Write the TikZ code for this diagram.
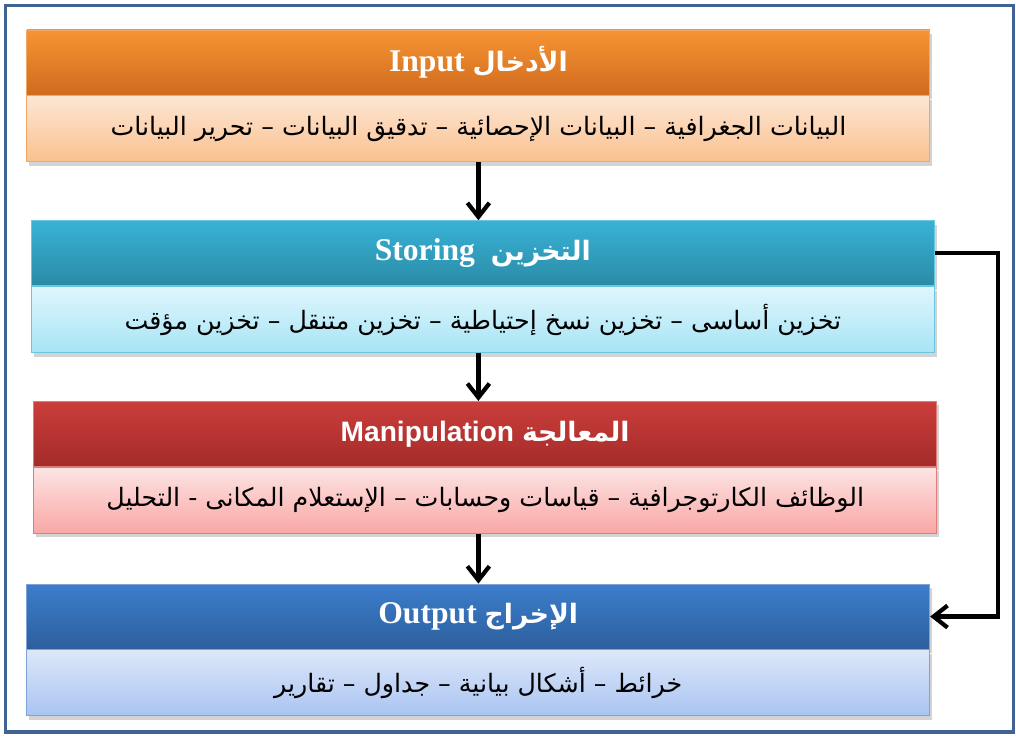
\documentclass[tikz,border=0pt]{standalone}
\usepackage{fontspec}
\setmainfont{Liberation Serif}
\newfontfamily\arabicfont[Script=Arabic]{DejaVu Sans}
\newfontfamily\sansfont{Liberation Sans}
\TeXXeTstate=1
\usetikzlibrary{positioning,arrows.meta,shadows}

\definecolor{FrameBlue}{HTML}{3F6493}
\definecolor{InTop}{HTML}{F79433}
\definecolor{InBot}{HTML}{D06A1E}
\definecolor{InLt}{HTML}{FDE6D4}
\definecolor{InDk}{HTML}{FAC18F}
\definecolor{InLine}{HTML}{F2A766}
\definecolor{StTop}{HTML}{38B2D6}
\definecolor{StBot}{HTML}{2A8BA6}
\definecolor{StLt}{HTML}{DFF6FC}
\definecolor{StDk}{HTML}{A7E4F6}
\definecolor{StLine}{HTML}{6DC6E0}
\definecolor{MaTop}{HTML}{CB3E3B}
\definecolor{MaBot}{HTML}{A32B29}
\definecolor{MaLt}{HTML}{FCE4E4}
\definecolor{MaDk}{HTML}{F9A8A5}
\definecolor{MaLine}{HTML}{E07C7A}
\definecolor{OuTop}{HTML}{3C7DCC}
\definecolor{OuBot}{HTML}{2D5F9D}
\definecolor{OuLt}{HTML}{DDE7F9}
\definecolor{OuDk}{HTML}{A9C4F2}
\definecolor{OuLine}{HTML}{7EA2DA}

\newcommand{\headar}[1]{{\arabicfont\fontsize{19}{22}\selectfont\beginR #1\endR}}

\begin{document}
\begin{tikzpicture}[>={Straight Barb[length=3.5mm,width=5.5mm]},
    flow/.style={->,line width=3pt},
    head/.style n args={3}{minimum width=22.575cm,minimum height=1.625cm,
        inner sep=0pt,top color=#1,bottom color=#2,draw=#3,line width=0.6pt,
        text=white,font=\bfseries\fontsize{22.5}{26}\selectfont,
        drop shadow={opacity=0.35,shadow xshift=0.6mm,shadow yshift=-1mm}},
    body/.style n args={3}{minimum width=22.575cm,minimum height=1.65cm,
        inner sep=0pt,top color=#1,bottom color=#2,draw=#3,line width=0.6pt,
        text=black,font=\arabicfont\fontsize{18}{22}\selectfont,
        drop shadow={opacity=0.35,shadow xshift=0.6mm,shadow yshift=-1mm}}]
    \useasboundingbox (0,0) rectangle (25.4,-18.425);
    \draw[FrameBlue,line width=2.2pt] (0.13,-0.13) rectangle (25.33,-18.3);

    \node[head={InTop}{InBot}{InLine}] (inhead) at (11.96,-1.5625)
        {Input \headar{الأدخال}};
    \node[body={InLt}{InDk}{InLine}, below=0pt of inhead] (inbody)
        {\beginR البيانات الجغرافية – البيانات الإحصائية – تدقيق البيانات – تحرير البيانات\endR};

    \node[head={StTop}{StBot}{StLine}, below=1.45cm of inbody, xshift=0.11cm] (sthead)
        {Storing \ \headar{التخزين}};
    \node[body={StLt}{StDk}{StLine}, below=0pt of sthead] (stbody)
        {\beginR تخزين أساسى – تخزين نسخ إحتياطية – تخزين متنقل – تخزين مؤقت\endR};

    \node[head={MaTop}{MaBot}{MaLine}, below=1.2cm of stbody, xshift=0.06cm] (mahead)
        {{\sansfont\fontsize{20}{24}\selectfont Manipulation} \headar{المعالجة}};
    \node[body={MaLt}{MaDk}{MaLine}, below=0pt of mahead] (mabody)
        {\beginR الوظائف الكارتوجرافية – قياسات وحسابات – الإستعلام المكانى - التحليل\endR};

    \node[head={OuTop}{OuBot}{OuLine}, below=1.25cm of mabody, xshift=-0.175cm] (ouhead)
        {Output \headar{الإخراج}};
    \node[body={OuLt}{OuDk}{OuLine}, below=0pt of ouhead] (oubody)
        {\beginR خرائط – أشكال بيانية – جداول – تقارير\endR};

    % main flow
    \draw[flow] (inbody) -- (inbody |- sthead.north);
    \draw[flow] (stbody.south -| inbody) -- (mahead.north -| inbody);
    \draw[flow] (mabody.south -| inbody) -- (ouhead.north -| inbody);
    % storing straight to output
    \draw[flow] (sthead.east) -- ++(1.575cm,0) |- (ouhead.east);
\end{tikzpicture}
\end{document}
